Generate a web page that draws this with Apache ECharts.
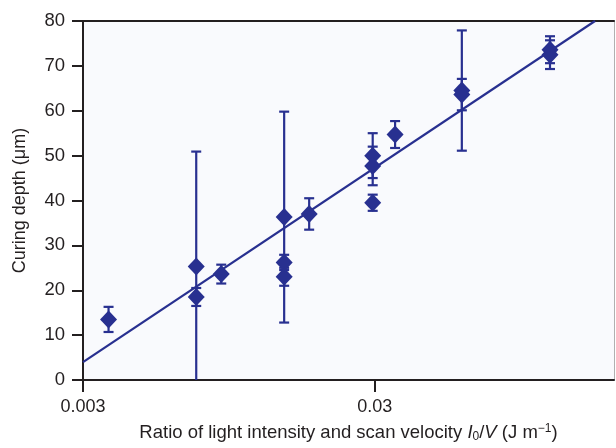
<!DOCTYPE html>
<html>
<head>
<meta charset="utf-8">
<script src="https://cdn.jsdelivr.net/npm/echarts@6/dist/echarts.min.js"></script>
<style>
html,body{margin:0;padding:0;background:#fff;}
#c{width:616px;height:448px;}
</style>
</head>
<body>
<div id="c"></div>
<script>
// ---- data ----
const xVals   = [0.00367, 0.00733, 0.00733, 0.00893, 0.01467, 0.01467, 0.01467, 0.01787, 0.0295, 0.0295, 0.0295, 0.0352, 0.0596, 0.0596, 0.1195, 0.1195];
const yVals   = [13.5, 25.3, 18.5, 23.6, 36.3, 26.2, 23.0, 37.0, 50.0, 47.7, 39.5, 54.7, 64.5, 63.6, 73.6, 72.5];
const errVals = [2.8, 25.6, 2.0, 2.1, 23.5, 1.7, 2.0, 3.5, 5.0, 4.3, 1.8, 3.0, 13.4, 3.5, 3.0, 3.2];
const fitX = [0.003, 0.1705];
const fitY = [4.0, 80];
const xTicks = [0.003, 0.03];
const xTickLabels = ['0.003', '0.03'];
const xMin = 0.003, xMax = 0.198;
const yMin = 0, yMax = 80, yStep = 10;

// log transform for the x axis (value axis in decades from xMin)
const lx = v => Math.log10(v / xMin);

const COLOR = '#283090';
const TEXT = '#231f20';
const FONT = 'Liberation Sans, Arial, sans-serif';

const pts = xVals.map((x, i) => [lx(x), yVals[i]]);
const bars = xVals.map((x, i) => [lx(x), yVals[i] - errVals[i], yVals[i] + errVals[i]]);
const fit = fitX.map((x, i) => [lx(x), fitY[i]]);
const tickU = xTicks.map(lx);

const chart = echarts.init(document.getElementById('c'), null, {renderer: 'canvas'});
chart.setOption({
  animation: false,
  backgroundColor: '#ffffff',
  grid: {left: 83, right: 2, top: 21, bottom: 63, show: true, backgroundColor: '#f9fafd', borderWidth: 0},
  xAxis: [{
    type: 'value', min: 0, max: lx(xMax), position: 'bottom',
    splitLine: {show: false},
    axisLine: {show: true, onZero: false, lineStyle: {color: TEXT, width: 2}},
    axisTick: {show: true, inside: false, length: 12, lineStyle: {color: TEXT, width: 2}, customValues: tickU},
    axisLabel: {
      customValues: tickU, margin: 18, color: TEXT, fontSize: 18, fontFamily: FONT,
      formatter: v => { const k = tickU.findIndex(t => Math.abs(t - v) < 1e-6); return k >= 0 ? xTickLabels[k] : ''; }
    },
    name: '{n|Ratio of light intensity and scan velocity }{i|I}{sub|0}{n|/}{i|V}{n| (J m}{sup|−1}{n|)}',
    nameLocation: 'middle', nameGap: 43,
    nameTextStyle: {
      color: TEXT, fontSize: 18, fontFamily: FONT,
      rich: {
        n: {fontSize: 18.5, color: TEXT, fontFamily: FONT, lineHeight: 20},
        i: {fontSize: 18.5, color: TEXT, fontStyle: 'italic', fontFamily: FONT, lineHeight: 20},
        sub: {fontSize: 12, color: TEXT, fontFamily: FONT, verticalAlign: 'bottom', lineHeight: 20, padding: [9, 0, 0, 0]},
        sup: {fontSize: 12, color: TEXT, fontFamily: FONT, verticalAlign: 'top', lineHeight: 20, padding: [0, 0, 8, 0]}
      }
    }
  }, {
    type: 'value', min: 0, max: lx(xMax), position: 'top',
    splitLine: {show: false}, axisTick: {show: false}, axisLabel: {show: false},
    axisLine: {show: true, onZero: false, lineStyle: {color: TEXT, width: 2}}
  }],
  yAxis: [{
    type: 'value', min: yMin, max: yMax, interval: yStep, position: 'left',
    splitLine: {show: false},
    axisLine: {show: true, onZero: false, lineStyle: {color: TEXT, width: 2}},
    axisTick: {show: true, inside: false, length: 11, lineStyle: {color: TEXT, width: 2}},
    axisLabel: {margin: 18, color: TEXT, fontSize: 18.5, fontFamily: FONT},
    name: 'Curing depth (μm)', nameLocation: 'middle', nameGap: 54, nameRotate: 90,
    nameTextStyle: {color: TEXT, fontSize: 18, fontFamily: FONT}
  }, {
    type: 'value', min: yMin, max: yMax, position: 'right',
    splitLine: {show: false}, axisTick: {show: false}, axisLabel: {show: false},
    axisLine: {show: true, onZero: false, lineStyle: {color: '#b0b0b0', width: 1}}
  }],
  series: [{
    type: 'custom', clip: true, xAxisIndex: 0, yAxisIndex: 0,
    encode: {x: 0, y: [1, 2]},
    data: bars,
    renderItem: (params, api) => {
      const x = api.value(0);
      const lo = api.coord([x, api.value(1)]);
      const hi = api.coord([x, api.value(2)]);
      const hw = 5;
      const st = {stroke: COLOR, lineWidth: 2.2, fill: null};
      return {type: 'group', children: [
        {type: 'line', shape: {x1: hi[0], y1: hi[1], x2: lo[0], y2: lo[1]}, style: st},
        {type: 'line', shape: {x1: hi[0] - hw, y1: hi[1], x2: hi[0] + hw, y2: hi[1]}, style: st},
        {type: 'line', shape: {x1: lo[0] - hw, y1: lo[1], x2: lo[0] + hw, y2: lo[1]}, style: st}
      ]};
    },
    z: 2
  }, {
    type: 'line', data: fit, clip: true, symbol: 'none',
    lineStyle: {color: COLOR, width: 2.2}, z: 3
  }, {
    type: 'scatter', data: pts, symbol: 'diamond', symbolSize: [17, 18],
    itemStyle: {color: COLOR, opacity: 1}, z: 4
  }]
});
</script>
</body>
</html>
